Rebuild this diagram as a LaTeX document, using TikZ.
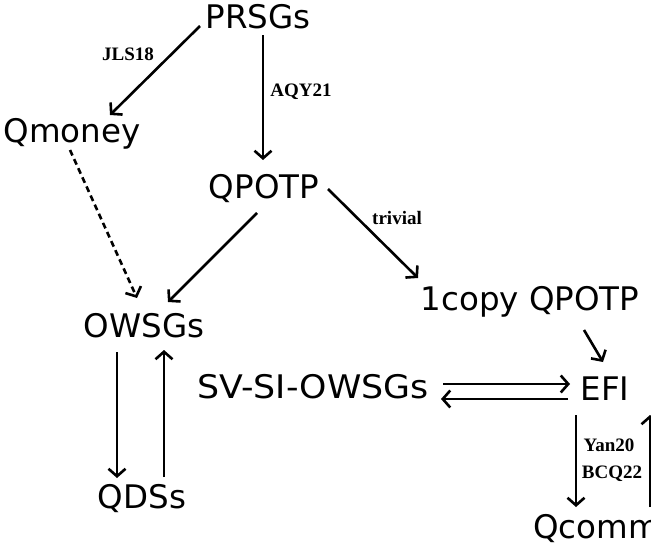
\documentclass[tikz,border=0pt]{standalone}
\usepackage{fontspec}
\setmainfont{DejaVu Sans}
\newfontfamily\widefont{DejaVu Sans}[FakeStretch=1.07]
\newfontfamily\lblfont{Liberation Serif}
\usetikzlibrary{arrows.meta}
\tikzset{
  term/.style={inner sep=0pt, anchor=base, font=\fontsize{32.5}{32.5}\selectfont},
  lbl/.style={inner sep=0pt, anchor=base, font=\lblfont\bfseries\fontsize{19}{19}\selectfont},
  arr/.style={line width=2.6pt, -{Straight Barb[length=7.5pt,width=17pt,line width=2.6pt]}},
  darr/.style={arr, dash pattern=on 6pt off 4pt}
}
\begin{document}
\begin{tikzpicture}[x=1pt,y=1pt]
\useasboundingbox (0,0) rectangle (651,-546);
\node[term] (prsgs) at (258,-28) {PRSGs};
\node[term] (qmoney) at (72,-142) {Qmoney};
\node[term] (qpotp) at (264,-198) {QPOTP};
\node[term] (onecopy) at (530,-310) {1copy QPOTP};
\node[term] (owsgs) at (144,-337) {OWSGs};
\node[term, font=\widefont\fontsize{32.5}{32.5}\selectfont] (svsi) at (313,-398) {SV-SI-OWSGs};
\node[term] (efi) at (605,-400) {EFI};
\node[term] (qdss) at (142,-508) {QDSs};
\node[term, anchor=base west] (qcomm) at (533,-538) {Qcomm};

\node[lbl] (ljls) at (128,-60) {JLS18};
\node[lbl] (laqy) at (301,-96) {AQY21};
\node[lbl] (ltriv) at (397,-224) {trivial};
\node[lbl] (lyan) at (609,-451) {Yan20};
\node[lbl] (lbcq) at (612,-478) {BCQ22};

\draw[arr] ([shift={(-58,2)}]prsgs.base) -- ([shift={(38,27)}]qmoney.base);
\draw[arr] ([shift={(5,-7)}]prsgs.base) -- ([shift={(-1,38)}]qpotp.base);
\draw[darr] ([shift={(-2,-8)}]qmoney.base) -- ([shift={(-7,39)}]owsgs.base);
\draw[arr] ([shift={(-7,-15)}]qpotp.base) -- ([shift={(24,35)}]owsgs.base);
\draw[arr] ([shift={(64,9)}]qpotp.base) -- ([shift={(-112,32)}]onecopy.base);
\draw[arr] ([shift={(54,-20)}]onecopy.base) -- ([shift={(-2,38)}]efi.base);
\draw[arr] ([shift={(130,14)}]svsi.base) -- ([shift={(-35,16)}]efi.base);
\draw[arr] ([shift={(-37,1)}]efi.base) -- ([shift={(128,-1)}]svsi.base);
\draw[arr] ([shift={(-27,-15)}]owsgs.base) -- ([shift={(-25,30)}]qdss.base);
\draw[arr] ([shift={(22,31)}]qdss.base) -- ([shift={(20,-13)}]owsgs.base);
\draw[arr] ([shift={(-29,-15)}]efi.base) -- ([shift={(43,31)}]qcomm.base west);
\draw[arr] ([shift={(117,31)}]qcomm.base west) -- ([shift={(45,-15)}]efi.base);
\end{tikzpicture}
\end{document}
